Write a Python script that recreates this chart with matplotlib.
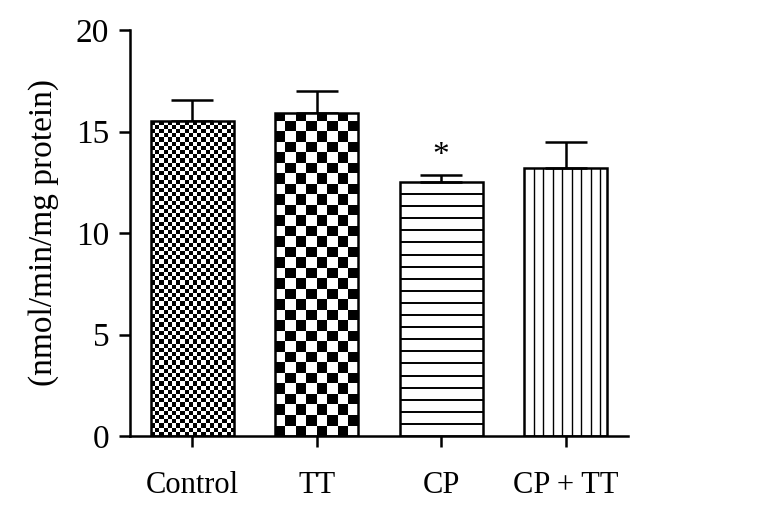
import numpy as np
import matplotlib
matplotlib.use("Agg")
import matplotlib.pyplot as plt

# enzyme activity (nmol/min/mg protein), mean and upper SEM
groups = ["Control", "TT", "CP", "CP + TT"]
means = [15.5, 15.9, 12.5, 13.2]
errs = [1.05, 1.1, 0.35, 1.3]
marks = ["", "", "*", ""]

plt.rcParams['font.family'] = ['Liberation Serif', 'DejaVu Serif']

fig = plt.figure(figsize=(7.62, 5.07), dpi=100)
ax = fig.add_axes([130 / 762, 71 / 507, 498 / 762, 406 / 507])

x = np.arange(len(groups))
width = 0.67
ylim = (0, 20)
xlim = (-0.5, 3.5)
px_x = 498 / (xlim[1] - xlim[0])   # pixels per x unit
px_y = 406 / (ylim[1] - ylim[0])   # pixels per y unit

bars = ax.bar(x, means, width, facecolor='none', edgecolor='black', linewidth=1.8, zorder=3)
ax.errorbar(x, means, yerr=[np.zeros(len(errs)), errs], fmt='none', ecolor='black',
            elinewidth=1.8, capsize=15, capthick=1.8, zorder=2)

# fill patterns, clipped to each bar
def checker(bar, cell):
    x0, w, h = bar.get_x(), bar.get_width(), bar.get_height()
    nc = max(1, int(round(w * px_x / cell)))
    nr = int(np.ceil(h * px_y / cell))
    img = np.add.outer(np.arange(nr), np.arange(nc)) % 2
    im = ax.imshow(img, cmap='gray', extent=(x0, x0 + w, 0, nr * cell / px_y),
                   aspect='auto', interpolation='nearest', origin='lower', zorder=2.5)
    im.set_clip_path(bar)

def hstripes(bar, step):
    x0, w, h = bar.get_x(), bar.get_width(), bar.get_height()
    ys = np.arange(step / px_y, h, step / px_y)
    ln = ax.hlines(ys, x0, x0 + w, colors='black', linewidth=1.4, zorder=2.5)
    ln.set_clip_path(bar)

def vstripes(bar, step):
    x0, w, h = bar.get_x(), bar.get_width(), bar.get_height()
    xs = np.arange(x0 + step / px_x, x0 + w - 0.5 / px_x, step / px_x)
    ln = ax.vlines(xs, 0, h, colors='black', linewidth=1.0, zorder=2.5)
    ln.set_clip_path(bar)

checker(bars[0], 4.2)
checker(bars[1], 10.5)
hstripes(bars[2], 12.1)
vstripes(bars[3], 9.5)

for xi, m, e, s in zip(x, means, errs, marks):
    if s:
        ax.text(xi, m + e + 0.2, s, ha='center', va='bottom', fontsize=24)

ax.set_xlim(*xlim)
ax.set_ylim(*ylim)
ax.set_yticks([0, 5, 10, 15, 20])
ax.set_xticks(x)
ax.set_xticklabels(groups)
ax.set_ylabel("(nmol/min/mg protein)", fontsize=24, labelpad=12)

for side in ['top', 'right']:
    ax.spines[side].set_visible(False)
for side in ['left', 'bottom']:
    ax.spines[side].set_linewidth(1.8)
ax.tick_params(axis='both', direction='out', length=8, width=1.8)
ax.tick_params(axis='y', pad=7, labelsize=24)
ax.tick_params(axis='x', pad=17, labelsize=22)

fig.savefig("out.png", dpi=100)
